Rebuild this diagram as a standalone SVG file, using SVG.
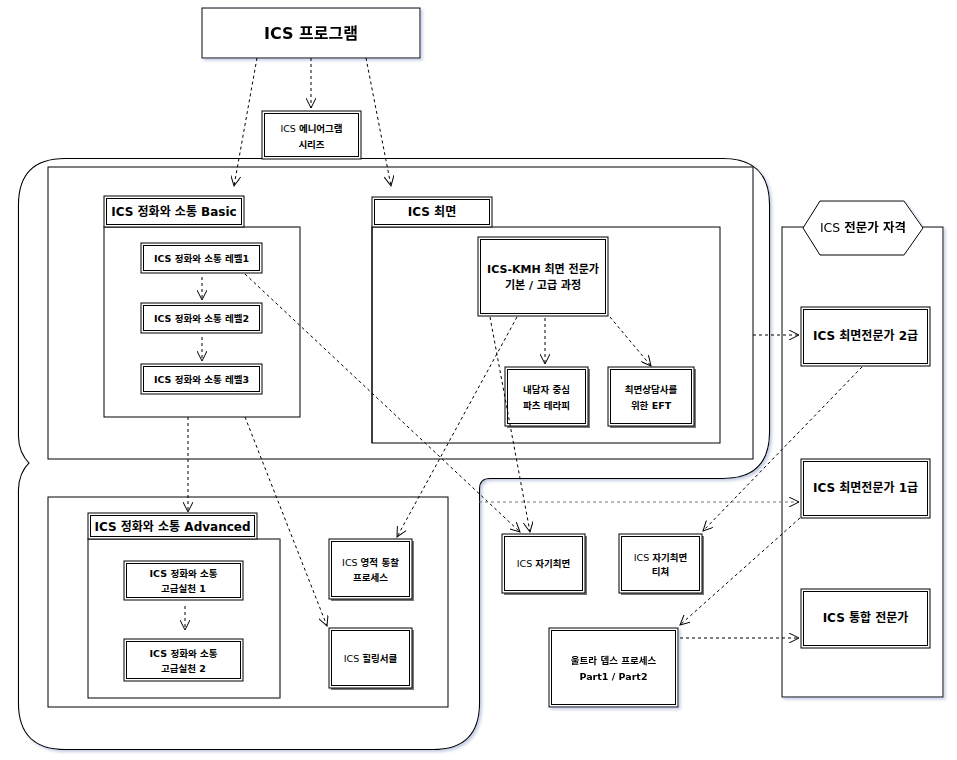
<svg xmlns="http://www.w3.org/2000/svg" width="957" height="760" viewBox="0 0 957 760">
<style>
.bx{fill:#fff;stroke:#000;stroke-width:1}
.in{fill:none;stroke:#000;stroke-width:1}
.bd{fill:#fff;stroke:#000;stroke-width:1}
.sh{fill:#777}
.t{font-family:"DejaVu Sans","Noto Sans CJK KR",sans-serif;text-anchor:middle;fill:#000}
.b{font-weight:bold}
.k{font-weight:bold}
.s{font-size:9.5px}
.m{font-size:12px}
.c{fill:none;stroke:#000;stroke-width:1;stroke-dasharray:3,3}
.g{stroke:#777}
</style>
<defs>
<marker id="a" viewBox="0 0 11 10" refX="10" refY="5" markerWidth="11" markerHeight="10" markerUnits="userSpaceOnUse" orient="auto">
<path d="M0,0 L10,5 L0,10" fill="none" stroke="#000" stroke-width="1"/>
</marker>
<filter id="ds" x="-10%" y="-10%" width="130%" height="130%">
<feDropShadow dx="2" dy="2" stdDeviation="1.5" flood-color="#7f8fc0" flood-opacity="0.45"/>
</filter>
<path id="fr" d="M65,160 L723,160 Q768,160 768,205 L768,432 Q768,477 723,477 L490,477 Q478,477 478,489 L478,703 Q478,748 433,748 L65,748 Q20,748 20,703 L20,490 Q20,474 31,463 Q20,452 20,436 L20,205 Q20,160 65,160 Z"/>
</defs>
<rect width="957" height="760" fill="#fff"/>

<g id="outer-frame">
<use href="#fr" fill="#fff" stroke="#000" stroke-width="4.2" filter="url(#ds)"/>
<use href="#fr" fill="#fff" stroke="#fff" stroke-width="2"/>
</g>
<rect id="area-top" x="48" y="167" width="705" height="292" class="bd"/>
<rect id="area-bottom" x="48" y="497" width="400" height="210" class="bd"/>

<g id="program" filter="url(#ds)">
<rect x="202" y="8" width="218" height="50" class="bx"/>
<text x="311" y="39" class="t b" font-size="16">ICS 프로그램</text>
</g>
<g id="enneagram">
<rect x="262" y="111" width="99" height="48" class="bx"/>
<rect x="264.5" y="113.5" width="94" height="43" class="in"/>
<text x="311.5" y="132" class="t s">ICS <tspan class="k">에니어그램</tspan></text>
<text x="311.5" y="148" class="t s k">시리즈</text>
</g>

<g id="basic">
<rect x="104" y="227" width="196" height="190" class="bd"/>
<line x1="104" y1="227" x2="300" y2="227" stroke="#777" stroke-width="1.5"/>
<rect x="104" y="196" width="140" height="31" class="bx"/>
<rect x="106.5" y="198.5" width="135" height="26" class="in"/>
<text x="174" y="215.5" class="t b m">ICS 정화와 소통 Basic</text>
</g>
<g id="level1">
<rect x="141" y="243" width="121" height="30" class="bx" stroke="#666" stroke-width="2"/>
<rect x="143.5" y="245.5" width="116" height="25" class="in"/>
<text x="201.5" y="262" class="t b s">ICS 정화와 소통 레벨1</text>
</g>
<g id="level2">
<rect x="141" y="303" width="121" height="30" class="bx" stroke="#666" stroke-width="2"/>
<rect x="143.5" y="305.5" width="116" height="25" class="in"/>
<text x="201.5" y="322" class="t b s">ICS 정화와 소통 레벨2</text>
</g>
<g id="level3">
<rect x="141" y="364" width="121" height="30" class="bx" stroke="#666" stroke-width="2"/>
<rect x="143.5" y="366.5" width="116" height="25" class="in"/>
<text x="201.5" y="383" class="t b s">ICS 정화와 소통 레벨3</text>
</g>

<g id="hypnosis">
<rect x="372" y="227" width="348" height="216" class="bd" stroke="#666" stroke-width="1.5"/>
<line x1="372" y1="227" x2="372" y2="443" stroke="#000"/>
<rect x="372" y="197" width="120" height="30" class="bx"/>
<rect x="374.5" y="199.5" width="115" height="25" class="in"/>
<text x="432" y="216" class="t b m">ICS 최면</text>
</g>
<g id="kmh">
<rect x="478" y="237" width="130" height="79" class="bx"/>
<rect x="480.5" y="239.5" width="125" height="74" class="in"/>
<text x="543" y="273" class="t b" font-size="11">ICS-KMH 최면 전문가</text>
<text x="543" y="289" class="t b" font-size="11">기본 / 고급 과정</text>
</g>
<g id="parts">
<rect x="507" y="369" width="83" height="59" class="sh"/>
<rect x="505" y="367" width="83" height="59" class="bx"/>
<rect x="507.5" y="369.5" width="78" height="54" class="in"/>
<text x="546.5" y="393" class="t s k">내담자 중심</text>
<text x="546.5" y="409" class="t s k">파츠 테라피</text>
</g>
<g id="eft">
<rect x="610" y="369" width="86" height="59" class="sh"/>
<rect x="608" y="367" width="86" height="59" class="bx"/>
<rect x="610.5" y="369.5" width="81" height="54" class="in"/>
<text x="651" y="393" class="t s k">최면상담사를</text>
<text x="651" y="409" class="t s k">위한 EFT</text>
</g>

<g id="advanced">
<rect x="88" y="539" width="192" height="159" class="bd"/>
<line x1="280" y1="539" x2="280" y2="698" stroke="#777" stroke-width="1.5"/>
<rect x="88" y="513" width="169" height="26" class="bx"/>
<rect x="90.5" y="515.5" width="164" height="21" class="in"/>
<text x="172.5" y="530.5" class="t b m">ICS 정화와 소통 Advanced</text>
</g>
<g id="adv1">
<rect x="124" y="561" width="119" height="39" class="bx" stroke="#666" stroke-width="2"/>
<rect x="126.5" y="563.5" width="114" height="34" class="in"/>
<text x="183.5" y="577" class="t b s">ICS 정화와 소통</text>
<text x="183.5" y="592" class="t b s">고급실천 1</text>
</g>
<g id="adv2">
<rect x="124" y="639" width="119" height="42" class="bx" stroke="#666" stroke-width="2"/>
<rect x="126.5" y="641.5" width="114" height="37" class="in"/>
<text x="183.5" y="657" class="t b s">ICS 정화와 소통</text>
<text x="183.5" y="672" class="t b s">고급실천 2</text>
</g>
<g id="spiritual">
<rect x="331" y="541" width="83" height="60" class="sh"/>
<rect x="329" y="539" width="83" height="60" class="bx"/>
<rect x="331.5" y="541.5" width="78" height="55" class="in"/>
<text x="370.5" y="566" class="t s">ICS <tspan class="k">영적 통찰</tspan></text>
<text x="370.5" y="581" class="t s k">프로세스</text>
</g>
<g id="healing">
<rect x="331" y="630" width="83" height="60" class="sh"/>
<rect x="329" y="628" width="83" height="60" class="bx"/>
<rect x="331.5" y="630.5" width="78" height="55" class="in"/>
<text x="370.5" y="662" class="t s">ICS <tspan class="k">힐링서클</tspan></text>
</g>

<g id="self-hypnosis">
<rect x="504" y="536" width="83" height="59" class="sh"/>
<rect x="502" y="534" width="83" height="59" class="bx"/>
<rect x="504.5" y="536.5" width="78" height="54" class="in"/>
<text x="543.5" y="567" class="t s">ICS <tspan class="k">자기최면</tspan></text>
</g>
<g id="self-hypnosis-teacher">
<rect x="621" y="536" width="83" height="59" class="sh"/>
<rect x="619" y="534" width="83" height="59" class="bx"/>
<rect x="621.5" y="536.5" width="78" height="54" class="in"/>
<text x="660.5" y="561" class="t s">ICS <tspan class="k">자기최면</tspan></text>
<text x="660.5" y="575" class="t s k">티쳐</text>
</g>
<g id="ultra-depth" filter="url(#ds)">
<rect x="549" y="628" width="129" height="79" class="bx"/>
<rect x="551.5" y="630.5" width="124" height="74" class="in"/>
<text x="613.5" y="664" class="t b s">울트라 뎁스 프로세스</text>
<text x="613.5" y="680" class="t b s">Part1 / Part2</text>
</g>

<g id="expert-qualification" filter="url(#ds)">
<rect x="782" y="227" width="161" height="470" class="bx"/>
<polygon points="803,228 820,201 904,201 923,228 904,255 820,255" class="bx"/>
<text x="863" y="232" class="t" font-size="12.5">ICS <tspan font-weight="600">전문가 자격</tspan></text>
</g>
<g id="expert2">
<rect x="801" y="307" width="129" height="59" class="bx"/>
<rect x="803.5" y="309.5" width="124" height="54" class="in"/>
<text x="865.5" y="340" class="t b m">ICS 최면전문가 2급</text>
</g>
<g id="expert1">
<rect x="801" y="459" width="129" height="59" class="bx"/>
<rect x="803.5" y="461.5" width="124" height="54" class="in"/>
<text x="865.5" y="492" class="t b m">ICS 최면전문가 1급</text>
</g>
<g id="integrated">
<rect x="801" y="589" width="129" height="59" class="bx"/>
<rect x="803.5" y="591.5" width="124" height="54" class="in"/>
<text x="865.5" y="622" class="t b m">ICS 통합 전문가</text>
</g>

<g id="connectors">
<line x1="311" y1="58" x2="311" y2="108" class="c" marker-end="url(#a)"/>
<line x1="257" y1="58" x2="234" y2="186" class="c" marker-end="url(#a)"/>
<line x1="366" y1="58" x2="391" y2="186" class="c" marker-end="url(#a)"/>
<line x1="202" y1="277" x2="202" y2="300" class="c" marker-end="url(#a)"/>
<line x1="202" y1="337" x2="202" y2="361" class="c" marker-end="url(#a)"/>
<line x1="188" y1="417" x2="188" y2="512" class="c" marker-end="url(#a)"/>
<line x1="245" y1="417" x2="327" y2="626" class="c" marker-end="url(#a)"/>
<line x1="245" y1="274" x2="520" y2="532" class="c" marker-end="url(#a)"/>
<line x1="517" y1="317" x2="397" y2="537" class="c" marker-end="url(#a)"/>
<line x1="490" y1="317" x2="530" y2="532" class="c" marker-end="url(#a)"/>
<line x1="545" y1="318" x2="545" y2="364" class="c" marker-end="url(#a)"/>
<line x1="610" y1="317" x2="651" y2="366" class="c" marker-end="url(#a)"/>
<line x1="185" y1="606" x2="185" y2="630" class="c" marker-end="url(#a)"/>
<line x1="753" y1="335" x2="799" y2="335" class="c" marker-end="url(#a)"/>
<line x1="862" y1="367" x2="703" y2="531" class="c" marker-end="url(#a)"/>
<line x1="479" y1="502" x2="799" y2="502" class="c g" stroke-width="1.3" marker-end="url(#a)"/>
<line x1="800" y1="518" x2="680" y2="625" class="c" marker-end="url(#a)"/>
<line x1="680" y1="638" x2="799" y2="638" class="c" marker-end="url(#a)"/>
</g>
</svg>
